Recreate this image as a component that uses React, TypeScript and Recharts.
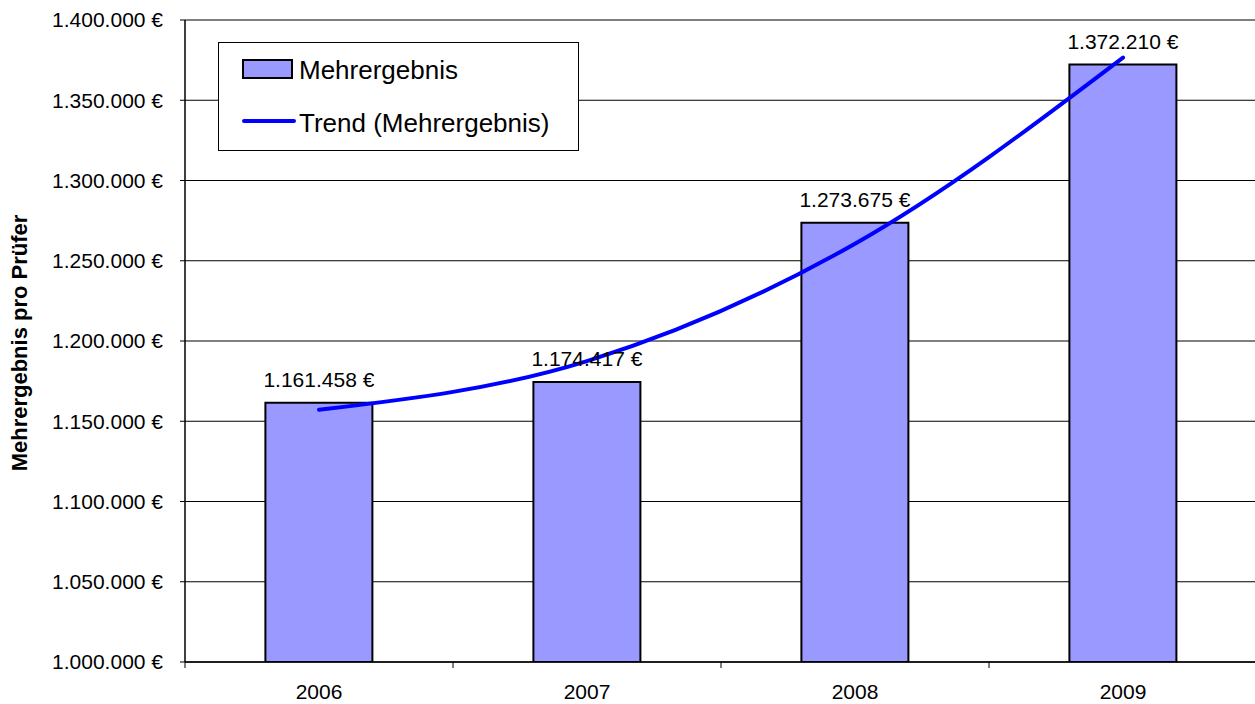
import React from 'react';
import {
  ComposedChart,
  Bar,
  Line,
  XAxis,
  YAxis,
  CartesianGrid,
  LabelList,
  Legend,
} from 'recharts';

const YEARS = ['2006', '2007', '2008', '2009'];
const MEHRERGEBNIS = [1161458, 1174417, 1273675, 1372210];
const TREND = [1157100, 1187500, 1260600, 1376600];
const Y_TICKS = [1000000, 1050000, 1100000, 1150000, 1200000, 1250000, 1300000, 1350000, 1400000];

const data = YEARS.map((year, i) => ({
  year,
  value: MEHRERGEBNIS[i],
  trend: TREND[i],
}));

const FONT = '"Liberation Sans", Arial, sans-serif';
const CHART_W = 1257;
const CHART_H = 704;
const YAXIS_W = 185;
const HALF_BAND = (CHART_W - YAXIS_W) / YEARS.length / 2;

const fmt = (n: number) => String(Math.round(n)).replace(/\B(?=(\d{3})+(?!\d))/g, '.') + ' €';

const XTick = (props: any) => {
  const { x, y, payload, index } = props;
  const last = index === YEARS.length - 1;
  return (
    <g>
      <line x1={x - HALF_BAND} x2={x - HALF_BAND} y1={y} y2={y + 6} stroke="#000" strokeWidth={1} />
      {last && <line x1={x + HALF_BAND} x2={x + HALF_BAND} y1={y} y2={y + 6} stroke="#000" strokeWidth={1} />}
      <text x={x} y={y + 37} textAnchor="middle" fontSize={21} fontFamily={FONT} fill="#000">
        {payload.value}
      </text>
    </g>
  );
};

const LegendBox = () => (
  <svg width={362} height={110} style={{ display: 'block' }}>
    <rect x={0.5} y={0.5} width={360} height={108} fill="#fff" stroke="#000" strokeWidth={1} />
    <rect x={25} y={18} width={49} height={18} fill="#9999FF" stroke="#000" strokeWidth={2} />
    <text x={81} y={37} fontSize={26} fontFamily={FONT} fill="#000">Mehrergebnis</text>
    <line x1={26} x2={76} y1={79} y2={79} stroke="#0000FF" strokeWidth={4} strokeLinecap="round" />
    <text x={81} y={90} fontSize={26} fontFamily={FONT} fill="#000">Trend (Mehrergebnis)</text>
  </svg>
);

const YLabel = () => (
  <text
    x={27}
    y={343}
    transform="rotate(-90, 27, 343)"
    textAnchor="middle"
    fontSize={22}
    fontWeight="bold"
    fontFamily={FONT}
    fill="#000"
  >
    Mehrergebnis pro Prüfer
  </text>
);

export default function App() {
  return (
    <div
      style={{
        position: 'absolute',
        left: 0,
        top: 0,
        width: 1255,
        height: 704,
        overflow: 'hidden',
        background: '#fff',
      }}
    >
      <ComposedChart
        width={CHART_W}
        height={CHART_H}
        data={data}
        margin={{ top: 20, right: 0, bottom: 0, left: 0 }}
        barCategoryGap="30%"
      >
        <CartesianGrid vertical={false} stroke="#000" strokeWidth={1} />
        <XAxis
          dataKey="year"
          height={42}
          axisLine={{ stroke: '#000', strokeWidth: 1.5 }}
          tickLine={false}
          tickSize={0}
          tickMargin={0}
          tick={<XTick />}
          interval={0}
        />
        <YAxis
          width={YAXIS_W}
          domain={[1000000, 1400000]}
          ticks={Y_TICKS}
          tickFormatter={fmt}
          axisLine={{ stroke: '#000', strokeWidth: 1.5 }}
          tickLine={{ stroke: '#000' }}
          tickSize={5}
          tickMargin={17}
          tick={{ fontSize: 21, fontFamily: FONT, fill: '#000' }}
          allowDataOverflow
          label={<YLabel />}
        />
        <Legend
          layout="vertical"
          align="center"
          verticalAlign="middle"
          wrapperStyle={{ left: 218, top: 42, width: 362, height: 110 }}
          content={<LegendBox />}
        />
        <Bar
          dataKey="value"
          name="Mehrergebnis"
          fill="#9999FF"
          stroke="#000"
          strokeWidth={2}
          isAnimationActive={false}
        >
          <LabelList
            dataKey="value"
            position="top"
            offset={16}
            formatter={(v: any) => fmt(Number(v))}
            fill="#000"
            fontSize={21}
            fontFamily={FONT}
          />
        </Bar>
        <Line
          dataKey="trend"
          name="Trend (Mehrergebnis)"
          type="monotone"
          stroke="#0000FF"
          strokeWidth={4}
          strokeLinecap="round"
          dot={false}
          activeDot={false}
          isAnimationActive={false}
        />
      </ComposedChart>
    </div>
  );
}
